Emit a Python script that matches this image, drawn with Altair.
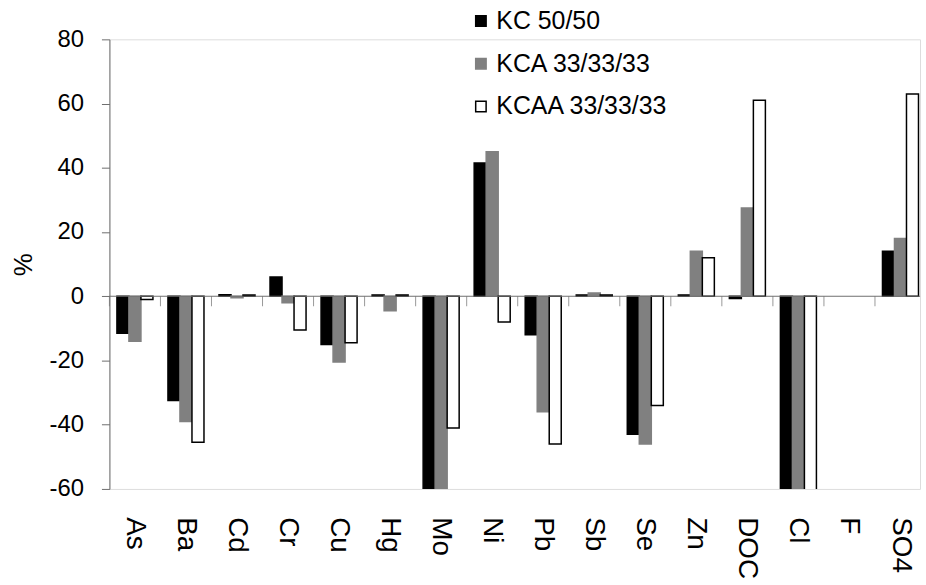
import altair as alt
import pandas as pd

# Change in leached amount per element for three mixing ratios (%)
elements = ["As", "Ba", "Cd", "Cr", "Cu", "Hg", "Mo", "Ni", "Pb", "Sb",
            "Se", "Zn", "DOC", "Cl", "F", "SO4"]
series_names = ["KC 50/50", "KCA 33/33/33", "KCAA 33/33/33"]

kc_50_50 = [-11.5, -32.5, 0.5, 6.0, -15.0, 0.4, -61.0, 41.5, -12.0, 0.4,
            -43.0, 0.4, -0.7, -61.0, None, 14.0]
kca_33 = [-14.0, -39.0, -0.5, -2.0, -20.5, -4.5, -61.0, 45.0, -36.0, 1.0,
          -46.0, 14.0, 27.5, -61.0, None, 18.0]
kcaa_33 = [-1.0, -45.5, 0.4, -10.5, -14.5, 0.4, -41.0, -8.0, -46.0, 0.4,
           -34.0, 12.0, 61.0, -61.0, None, 63.0]

y_ticks = [-60, -40, -20, 0, 20, 40, 60, 80]

fill_colors = ["#000000", "#808080", "#ffffff"]
stroke_colors = ["#000000", "#808080", "#000000"]
axis_gray = "#6e6e6e"
font = "Liberation Sans"

rows = []
for name, values in zip(series_names, [kc_50_50, kca_33, kcaa_33]):
    for el, v in zip(elements, values):
        rows.append({"element": el, "series": name, "pct": v})
df = pd.DataFrame(rows)
cats_df = pd.DataFrame({"element": elements})
zero_df = pd.DataFrame({"v": [0]})

# the category axis runs a little past the right edge of the page
x_scale = alt.Scale(domain=elements, paddingInner=0, paddingOuter=0, range=[0, 821])
y_scale = alt.Scale(domain=[-60, 80], nice=False, zero=False)

legend = alt.Legend(
    title=None, orient="none", legendX=361, legendY=-31,
    labelFontSize=25, labelFont=font, labelColor="#000000", labelLimit=400,
    symbolType="square", symbolSize=110, symbolStrokeWidth=1.5,
    rowPadding=17, labelOffset=3, padding=0,
)

bars = alt.Chart(df).mark_bar(clip=True, strokeWidth=1.5).encode(
    x=alt.X("element:N", scale=x_scale, sort=elements,
            axis=alt.Axis(title=None, labelAngle=90, labelFontSize=28,
                          labelFont=font, labelColor="#000000",
                          labelPadding=28, ticks=False, domain=False)),
    xOffset=alt.XOffset("series:N", sort=series_names,
                        scale=alt.Scale(domain=series_names,
                                        paddingInner=0, paddingOuter=0.625)),
    y=alt.Y("pct:Q", scale=y_scale,
            axis=alt.Axis(title="%", values=y_ticks, grid=False,
                          labelExpr="datum.value < 0 ? '-' + abs(datum.value) : '' + datum.value",
                          tickSize=8, tickColor=axis_gray,
                          domainColor=axis_gray, labelPadding=18,
                          labelFontSize=24, labelFont=font,
                          labelColor="#000000", titleFontSize=26,
                          titleFont=font, titleFontWeight="normal",
                          titleColor="#000000", titlePadding=13)),
    fill=alt.Fill("series:N", scale=alt.Scale(domain=series_names, range=fill_colors),
                  legend=legend),
    stroke=alt.Stroke("series:N", scale=alt.Scale(domain=series_names, range=stroke_colors),
                      legend=legend),
)

zero_line = alt.Chart(zero_df).mark_rule(color=axis_gray, strokeWidth=1).encode(
    y=alt.Y("v:Q", scale=y_scale)
)

boundary_ticks = alt.Chart(cats_df).mark_tick(
    orient="vertical", size=10, thickness=1, yOffset=5, color=axis_gray
).encode(
    x=alt.X("element:N", bandPosition=0, sort=elements, scale=x_scale),
    y=alt.datum(0),
)

chart = alt.layer(bars, zero_line, boundary_ticks).properties(
    width=815, height=452,
    padding={"left": 10, "top": 7, "right": 0, "bottom": 0},
).configure_view(stroke=None).configure(background="#ffffff")

chart.save("out.html", embed_options={"renderer": "svg", "actions": False})
